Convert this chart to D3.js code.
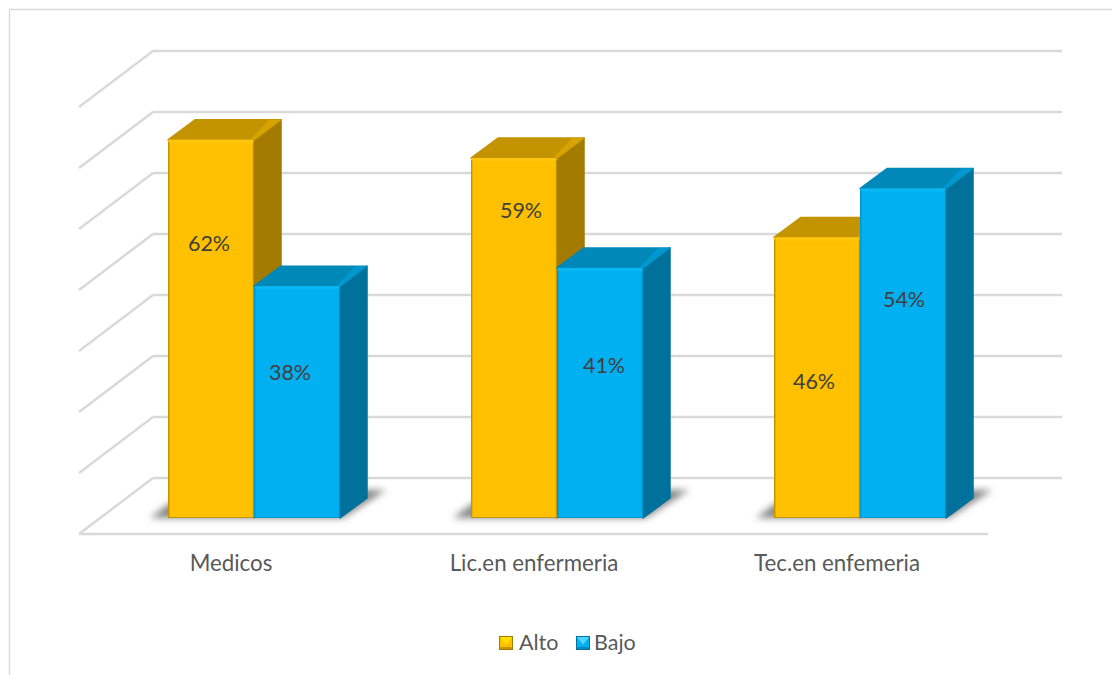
<!DOCTYPE html>
<html><head><meta charset="utf-8">
<script src="https://cdn.jsdelivr.net/npm/d3@7"></script>
<style>html,body{margin:0;padding:0;background:#fff}svg{display:block}text{font-family:Lato,"Open Sans",sans-serif}</style>
</head><body><svg id="c" width="1112" height="675"></svg>
<script>
const categories = ["Medicos", "Lic.en enfermeria", "Tec.en enfemeria"];
const seriesNames = ["Alto", "Bajo"];
const alto = [62, 59, 46];
const bajo = [38, 41, 54];
const tickValues = [0, 10, 20, 30, 40, 50, 60, 70];
// label nudges from the centre of each bar's front face, px (hand-placed in the reference)
const labelNudge = [[[-2,-85],[-7,-30]],[[7,-128],[4,-27]],[[-3,4],[1,-54]]];

const faces = {
  Alto: {front:"#FFC000", side:"#A37B00", top:"#C49300", glow:"#D6A300", edge:"#C29300", hi:"#FFC60F", sw:"#FFE000"},
  Bajo: {front:"#00B0F0", side:"#00719A", top:"#0088B8", glow:"#0098CE", edge:"#0097CE", hi:"#0AB8F6", sw:"#4FD3FF"}
};
const svg = d3.select("#c");
const defs = svg.append("defs");
defs.append("filter").attr("id","blur").attr("x","-20%").attr("y","-50%").attr("width","140%").attr("height","200%")
  .append("feGaussianBlur").attr("stdDeviation",3.6);

const y = d3.scaleLinear().domain([0,70]).range([0,-427]);
const x = d3.scaleBand().domain(categories).range([102.5,1011.5]);
const inner = d3.scaleBand().domain(seriesNames).range([0,172]).paddingInner(0);
const xStart = c => x(c) + (x.bandwidth()-inner.bandwidth()*2)/2;

// frame
svg.append("path").attr("d","M9.5 675V9.5H1112").attr("fill","none").attr("stroke","#d9d9d9").attr("stroke-width",1.3);

// walls
const wall = {fx0:79, fy0:534, dx:74, dy:-56, w:909};
const g = svg.append("g").attr("fill","none").attr("stroke","#d9d9d9").attr("stroke-width",2.4);
tickValues.forEach(t=>{
  const fy = wall.fy0 + y(t);
  g.append("line").attr("x1",wall.fx0).attr("y1",fy).attr("x2",wall.fx0+wall.dx).attr("y2",fy+wall.dy);
  g.append("line").attr("x1",wall.fx0+wall.dx).attr("y1",fy+wall.dy).attr("x2",wall.fx0+wall.dx+wall.w).attr("y2",fy+wall.dy);
});
g.append("line").attr("x1",wall.fx0).attr("y1",wall.fy0).attr("x2",wall.fx0+wall.w).attr("y2",wall.fy0);

const base = 518, depthX = 27, depthY = -20;
const poly = pts => pts.map(p=>p.join(",")).join(" ");

// floor shadows
categories.forEach(c=>{
  const a = xStart(c), b = a + inner.bandwidth()*2;
  svg.append("polygon").attr("filter","url(#blur)").attr("fill","#858585")
    .attr("points",poly([[a-18,base],[b+3,base],[b+46,base-28],[a+20,base-28]]));
});

// bars
categories.forEach((c,i)=>{
  [alto[i],bajo[i]].forEach((v,j)=>{
    const name = seriesNames[j], f = faces[name];
    const x0 = xStart(c)+inner(name), x1 = x0+inner.bandwidth();
    const yt = base+y(v);
    const gg = svg.append("g");
    gg.append("polygon").attr("fill",f.side).attr("stroke",f.side).attr("stroke-width",1.5).attr("stroke-linejoin","round")
      .attr("points",poly([[x1,base],[x1+depthX,base+depthY],[x1+depthX,yt+depthY],[x1,yt]]));
    gg.append("polygon").attr("fill",f.top).attr("stroke",f.top).attr("stroke-width",1.5).attr("stroke-linejoin","round")
      .attr("points",poly([[x0,yt],[x0+depthX,yt+depthY],[x1+depthX,yt+depthY],[x1,yt]]));
    gg.append("polygon").attr("fill",f.glow)
      .attr("points",poly([[x1-3,yt-1],[x1+depthX-12,yt+depthY],[x1+depthX,yt+depthY],[x1+1,yt]]));
    gg.append("rect").attr("x",x0).attr("y",yt).attr("width",x1-x0).attr("height",base-yt).attr("rx",2).attr("fill",f.front);
    gg.append("rect").attr("x",x0+1).attr("y",yt).attr("width",x1-x0-2).attr("height",3).attr("fill",f.hi);
    gg.append("rect").attr("x",x0).attr("y",yt+2).attr("width",1.4).attr("height",base-yt-2).attr("fill",f.edge);
    gg.append("rect").attr("x",x1-1.2).attr("y",yt+2).attr("width",1.2).attr("height",base-yt-2).attr("fill",f.edge);
    gg.append("rect").attr("x",x0).attr("y",base-1).attr("width",x1-x0).attr("height",1).attr("fill",f.edge);
  });
});

// value labels drawn after all bars
categories.forEach((c,i)=>{
  [alto[i],bajo[i]].forEach((v,j)=>{
    const name = seriesNames[j];
    const cx = xStart(c)+inner(name)+inner.bandwidth()/2;
    const cy = base+y(v)/2;
    svg.append("text").attr("x",cx+labelNudge[i][j][0]).attr("y",cy+labelNudge[i][j][1]+7.5)
      .attr("text-anchor","middle").attr("font-size",21.5).attr("fill","#404040").text(v+"%");
  });
});

// category labels
categories.forEach(c=>{
  svg.append("text").attr("x",x(c)+x.bandwidth()/2-23).attr("y",571)
    .attr("text-anchor","middle").attr("font-size",22.3).attr("fill","#595959").text(c);
});

// legend
const legendX = d3.scaleOrdinal().domain(seriesNames).range([499,576]);
seriesNames.forEach(n=>{
  const f = faces[n], X = legendX(n), Y = 636, s = 14;
  const l = svg.append("g");
  l.append("rect").attr("x",X).attr("y",Y).attr("width",s).attr("height",s).attr("fill",f.front);
  l.append("polygon").attr("fill",f.sw).attr("points",poly([[X,Y],[X+s,Y],[X+s/2,Y+s*0.62]]));
  l.append("polygon").attr("fill",f.top).attr("points",poly([[X,Y+s],[X+s,Y+s],[X+s-2,Y+s-3],[X+2,Y+s-3]]));
  l.append("rect").attr("x",X+.5).attr("y",Y+.5).attr("width",s-1).attr("height",s-1).attr("fill","none").attr("stroke",f.side).attr("stroke-width",1);
  l.append("text").attr("x",X+s+(n==="Alto"?6:4)).attr("y",650).attr("font-size",21.5).attr("fill","#595959").text(n);
});
</script></body></html>
